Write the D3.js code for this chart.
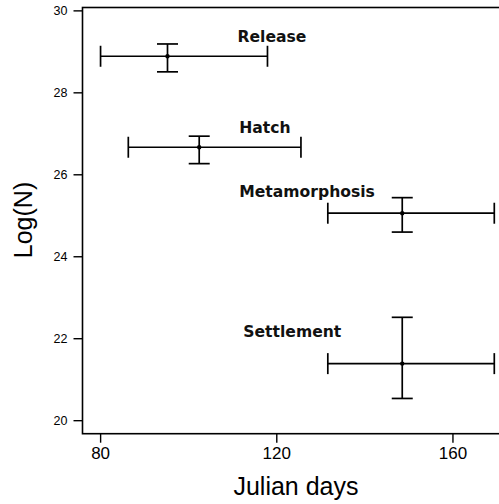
<!DOCTYPE html>
<html>
<head>
<meta charset="utf-8">
<script src="https://cdn.jsdelivr.net/npm/d3@7"></script>
<style>
  body { margin: 0; background: #fff; }
  svg { display: block; }
</style>
</head>
<body>
<div id="chart"></div>
<script>
// stages and their mean day / log abundance with error ranges
const stages = ['Release', 'Hatch', 'Metamorphosis', 'Settlement'];
const dayMean = [95.3, 102.5, 148.6, 148.6];
const dayLow = [80.1, 86.4, 131.7, 131.7];
const dayHigh = [118.0, 125.6, 169.5, 169.5];
const logMean = [28.88, 26.66, 25.05, 21.38];
const logLow = [28.50, 26.26, 24.59, 20.53];
const logHigh = [29.18, 26.93, 25.43, 22.51];

// where the stage names sit (in data units)
const labelDay = [111.2, 111.6, 111.6, 112.5];
const labelLog = [29.23, 27.0, 25.45, 22.02];

const xTicks = [80, 120, 160];
const yTicks = [20, 22, 24, 26, 28, 30];

const width = 499;
const height = 504;
const margin = { top: 7.5, right: -6.3, bottom: 70.3, left: 82.5 };

const svg = d3.select('#chart')
    .append('svg')
    .attr('width', width)
    .attr('height', height);

const x = d3.scaleLinear()
    .domain([76, 172])
    .range([margin.left, width - margin.right]);

const y = d3.scaleLinear()
    .domain([19.67, 30.07])
    .range([height - margin.bottom, margin.top]);

const data = stages.map((s, i) => ({
    name: s,
    day: dayMean[i], d0: dayLow[i], d1: dayHigh[i],
    val: logMean[i], v0: logLow[i], v1: logHigh[i],
    lx: labelDay[i], ly: labelLog[i]
}));

// frame
svg.append('rect')
    .attr('x', x(76))
    .attr('y', y(30.07))
    .attr('width', x(172) - x(76))
    .attr('height', y(19.67) - y(30.07))
    .attr('fill', 'none')
    .attr('stroke', '#000')
    .attr('stroke-width', 1.6);

// axes
const yAxis = svg.append('g')
    .attr('transform', `translate(${margin.left},0)`)
    .call(d3.axisLeft(y).tickValues(yTicks).tickSize(9).tickPadding(6));
yAxis.select('.domain').remove();
yAxis.selectAll('line').attr('stroke-width', 1.4);
yAxis.selectAll('text')
    .attr('font-family', 'Liberation Sans, Arial, sans-serif')
    .attr('font-size', 12.5)
    .attr('fill', '#000');

const xAxis = svg.append('g')
    .attr('transform', `translate(0,${height - margin.bottom})`)
    .call(d3.axisBottom(x).tickValues(xTicks).tickSize(9).tickPadding(4));
xAxis.select('.domain').remove();
xAxis.selectAll('line').attr('stroke-width', 1.4);
xAxis.selectAll('text')
    .attr('font-family', 'Liberation Sans, Arial, sans-serif')
    .attr('font-size', 17)
    .attr('fill', '#000');

// axis titles
svg.append('text')
    .attr('x', 296)
    .attr('y', 495)
    .attr('text-anchor', 'middle')
    .attr('font-family', 'Liberation Sans, Arial, sans-serif')
    .attr('font-size', 25)
    .text('Julian days');

svg.append('text')
    .attr('transform', 'translate(31.5,220) rotate(-90)')
    .attr('text-anchor', 'middle')
    .attr('font-family', 'Liberation Sans, Arial, sans-serif')
    .attr('font-size', 25)
    .text('Log(N)');

// error bars
const cap = 10.5;
const g = svg.append('g')
    .attr('stroke', '#000')
    .attr('stroke-width', 1.7);

const bars = g.selectAll('g.bar')
    .data(data)
    .join('g')
    .attr('class', 'bar');

bars.append('line')
    .attr('x1', d => x(d.d0)).attr('x2', d => x(d.d1))
    .attr('y1', d => y(d.val)).attr('y2', d => y(d.val));
bars.append('line')
    .attr('x1', d => x(d.d0)).attr('x2', d => x(d.d0))
    .attr('y1', d => y(d.val) - cap).attr('y2', d => y(d.val) + cap);
bars.append('line')
    .attr('x1', d => x(d.d1)).attr('x2', d => x(d.d1))
    .attr('y1', d => y(d.val) - cap).attr('y2', d => y(d.val) + cap);

bars.append('line')
    .attr('x1', d => x(d.day)).attr('x2', d => x(d.day))
    .attr('y1', d => y(d.v0)).attr('y2', d => y(d.v1));
bars.append('line')
    .attr('x1', d => x(d.day) - cap).attr('x2', d => x(d.day) + cap)
    .attr('y1', d => y(d.v0)).attr('y2', d => y(d.v0));
bars.append('line')
    .attr('x1', d => x(d.day) - cap).attr('x2', d => x(d.day) + cap)
    .attr('y1', d => y(d.v1)).attr('y2', d => y(d.v1));

svg.append('g')
    .selectAll('circle')
    .data(data)
    .join('circle')
    .attr('cx', d => x(d.day))
    .attr('cy', d => y(d.val))
    .attr('r', 2.2)
    .attr('fill', '#000');

// stage names
svg.append('g')
    .selectAll('text')
    .data(data)
    .join('text')
    .attr('x', d => x(d.lx))
    .attr('y', d => y(d.ly))
    .attr('font-family', 'DejaVu Sans, sans-serif')
    .attr('font-weight', 'bold')
    .attr('font-size', 15.6)
    .attr('fill', '#111')
    .text(d => d.name);
</script>
</body>
</html>
